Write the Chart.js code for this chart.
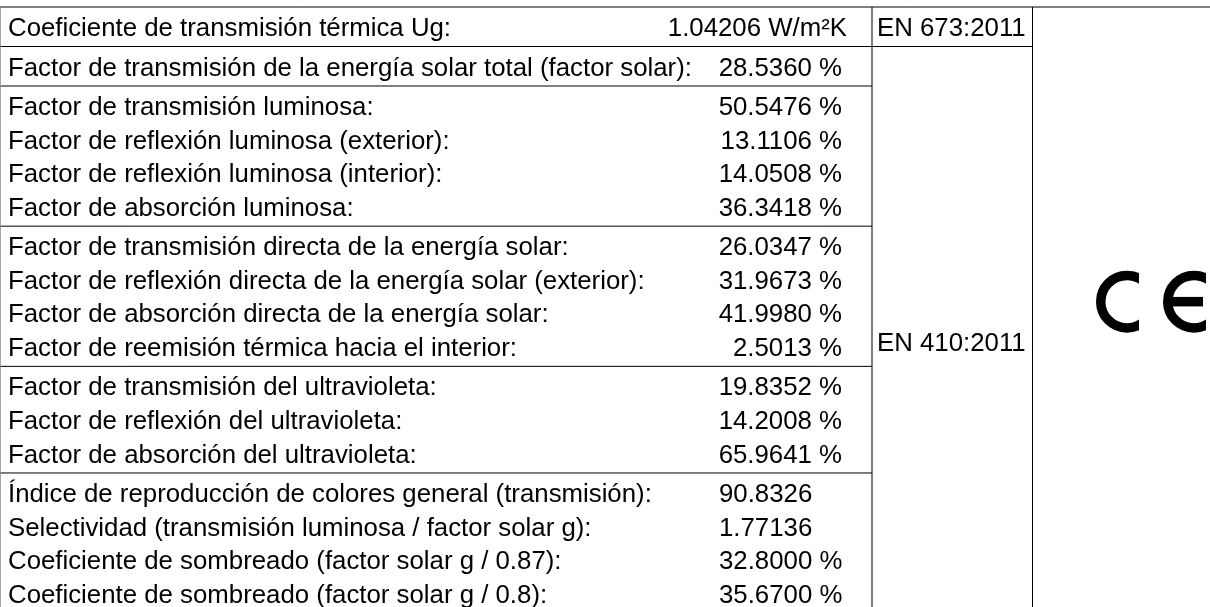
<!DOCTYPE html>
<html lang="es">
<head>
<meta charset="utf-8">
<title>Características del vidrio</title>
<script src="https://cdn.jsdelivr.net/npm/chart.js@4.4.1/dist/chart.umd.min.js"></script>
<style>
  html, body { margin: 0; padding: 0; background: #fff; }
  canvas { display: block; }
</style>
</head>
<body>
<canvas id="tablaVidrio" width="1210" height="607"></canvas>
<script>
// datos de la ficha
const groupSizes = [1, 1, 4, 4, 3, 4];

const rowLabels = [
  "Coeficiente de transmisión térmica Ug:",
  "Factor de transmisión de la energía solar total (factor solar):",
  "Factor de transmisión luminosa:",
  "Factor de reflexión luminosa (exterior):",
  "Factor de reflexión luminosa (interior):",
  "Factor de absorción luminosa:",
  "Factor de transmisión directa de la energía solar:",
  "Factor de reflexión directa de la energía solar (exterior):",
  "Factor de absorción directa de la energía solar:",
  "Factor de reemisión térmica hacia el interior:",
  "Factor de transmisión del ultravioleta:",
  "Factor de reflexión del ultravioleta:",
  "Factor de absorción del ultravioleta:",
  "Índice de reproducción de colores general (transmisión):",
  "Selectividad (transmisión luminosa / factor solar g):",
  "Coeficiente de sombreado (factor solar g / 0.87):",
  "Coeficiente de sombreado (factor solar g / 0.8):",
];

const rowValues = [
  "1.04206", "28.5360", "50.5476", "13.1106", "14.0508", "36.3418",
  "26.0347", "31.9673", "41.9980", "2.5013", "19.8352", "14.2008",
  "65.9641", "90.8326", "1.77136", "32.8000", "35.6700",
];

const rowUnits = [
  "W/m²K", "%", "%", "%", "%", "%", "%", "%", "%", "%", "%", "%", "%",
  "", "", "%", "%",
];

const standards = ["EN 673:2011", "EN 410:2011"];

const ceLabel = "CE";

//! GEOMETRÍA (unidades de fila en el eje y)
const PAD = 0.177; // espacio extra por grupo
const FONT_PX = 25.8;
const FONT = FONT_PX + 'px "Liberation Sans", Arial, Helvetica, sans-serif';

const groupTops = [];
const rowCenters = [];
const rowGroup = [];
let acc = 0;
groupSizes.forEach((n, g) => {
  groupTops.push(acc);
  for (let i = 0; i < n; i++) {
    rowCenters.push(acc + PAD / 2 + i + 0.5);
    rowGroup.push(g);
  }
  acc += n + PAD;
});

const COL_LABEL = 8;
const COL_VALUE_END = 842;
const COL_VALUE_START = 719;
const COL_STD = 872;
const COL_CE = 1032;

const labelPoints = rowLabels.map((t, i) => ({ x: COL_LABEL, y: rowCenters[i], text: t, align: "left" }));
const valuePoints = rowValues.map((v, i) => {
  const text = rowUnits[i] ? v + " " + rowUnits[i] : v;
  if (rowGroup[i] === 5) return { x: COL_VALUE_START, y: rowCenters[i], text, align: "left" };
  if (rowGroup[i] === 0) return { x: COL_VALUE_END + 5, y: rowCenters[i], text, align: "right" };
  return { x: COL_VALUE_END, y: rowCenters[i], text, align: "right" };
});
const stdPoints = standards.map((s, k) => ({
  x: COL_STD + 5,
  y: k === 0 ? rowCenters[0] : 9.98,
  text: s,
  align: "left",
}));
const cePoints = [{ x: 1127, y: 8.78, text: ceLabel }];

//! PLUGIN: LÍNEAS Y TEXTOS DE LA TABLA
const gridPlugin = {
  id: "tablaLineas",
  beforeDatasetsDraw(chart) {
    const { ctx, scales } = chart;
    const xs = scales.x, ys = scales.y;
    const yTop = ys.getPixelForValue(groupTops[0]);
    const yEnd = ys.getPixelForValue(ys.max);
    ctx.save();
    ctx.strokeStyle = "#000";
    ctx.lineWidth = 1;
    const hline = (yv, x0, x1) => {
      ctx.beginPath();
      ctx.moveTo(xs.getPixelForValue(x0), ys.getPixelForValue(yv));
      ctx.lineTo(xs.getPixelForValue(x1), ys.getPixelForValue(yv));
      ctx.stroke();
    };
    const vline = (xv, y0) => {
      ctx.beginPath();
      ctx.moveTo(xs.getPixelForValue(xv), y0);
      ctx.lineTo(xs.getPixelForValue(xv), yEnd);
      ctx.stroke();
    };
    hline(groupTops[0], xs.min, xs.max);
    hline(groupTops[1], xs.min, COL_CE);
    groupTops.slice(2).forEach((t) => hline(t, xs.min, COL_STD));
    ctx.strokeStyle = "#888";
    ctx.lineWidth = 1.5;
    vline(0, yTop);
    ctx.strokeStyle = "#000";
    ctx.lineWidth = 1;
    vline(COL_STD, yTop);
    vline(COL_CE + 0.5, yTop);
    ctx.restore();
  },
  afterDatasetsDraw(chart) {
    const { ctx } = chart;
    ctx.save();
    ctx.fillStyle = "#000";
    ctx.font = FONT;
    ctx.textBaseline = "alphabetic";
    chart.data.datasets.forEach((ds, di) => {
      const meta = chart.getDatasetMeta(di);
      if (ds.kind === "text") {
        meta.data.forEach((el, i) => {
          const p = ds.data[i];
          ctx.textAlign = p.align;
          ctx.fillText(p.text, el.x, el.y + FONT_PX * 0.36);
        });
      } else if (ds.kind === "ce") {
        meta.data.forEach((el) => drawCE(ctx, el.x, el.y));
      }
    });
    ctx.restore();
  },
};

// marca CE dibujada con arcos
function drawCE(ctx, cx, cy) {
  const rOut = 31, w = 9.5, r = rOut - w / 2;
  ctx.save();
  ctx.strokeStyle = "#000";
  ctx.fillStyle = "#000";
  ctx.lineWidth = w;
  // C
  ctx.save();
  ctx.beginPath();
  ctx.rect(cx - 40, cy - 40, 40 + 12, 80);
  ctx.clip();
  ctx.beginPath();
  ctx.arc(cx, cy, r, 0, Math.PI * 2);
  ctx.stroke();
  ctx.restore();
  // E
  const ex = cx + 67;
  ctx.save();
  ctx.beginPath();
  ctx.rect(ex - 40, cy - 40, 40 + 12, 80);
  ctx.clip();
  ctx.beginPath();
  ctx.arc(ex, cy, r, 0, Math.PI * 2);
  ctx.stroke();
  ctx.fillRect(ex - r, cy - w / 2, r + 9, w);
  ctx.restore();
  ctx.restore();
}

//! GRÁFICO
const ctx = document.getElementById("tablaVidrio").getContext("2d");

new Chart(ctx, {
  type: "scatter",
  data: {
    datasets: [
      { kind: "text", data: labelPoints, pointRadius: 0 },
      { kind: "text", data: valuePoints, pointRadius: 0 },
      { kind: "text", data: stdPoints, pointRadius: 0 },
      { kind: "ce", data: cePoints, pointRadius: 0 },
    ],
  },
  options: {
    responsive: false,
    animation: false,
    events: [],
    layout: { padding: 0 },
    scales: {
      x: { type: "linear", min: 0, max: 1210, display: false },
      y: { type: "linear", min: -7 / 33.56, max: 600 / 33.56, reverse: true, display: false },
    },
    plugins: {
      legend: { display: false },
      tooltip: { enabled: false },
    },
  },
  plugins: [gridPlugin],
});
</script>
</body>
</html>
